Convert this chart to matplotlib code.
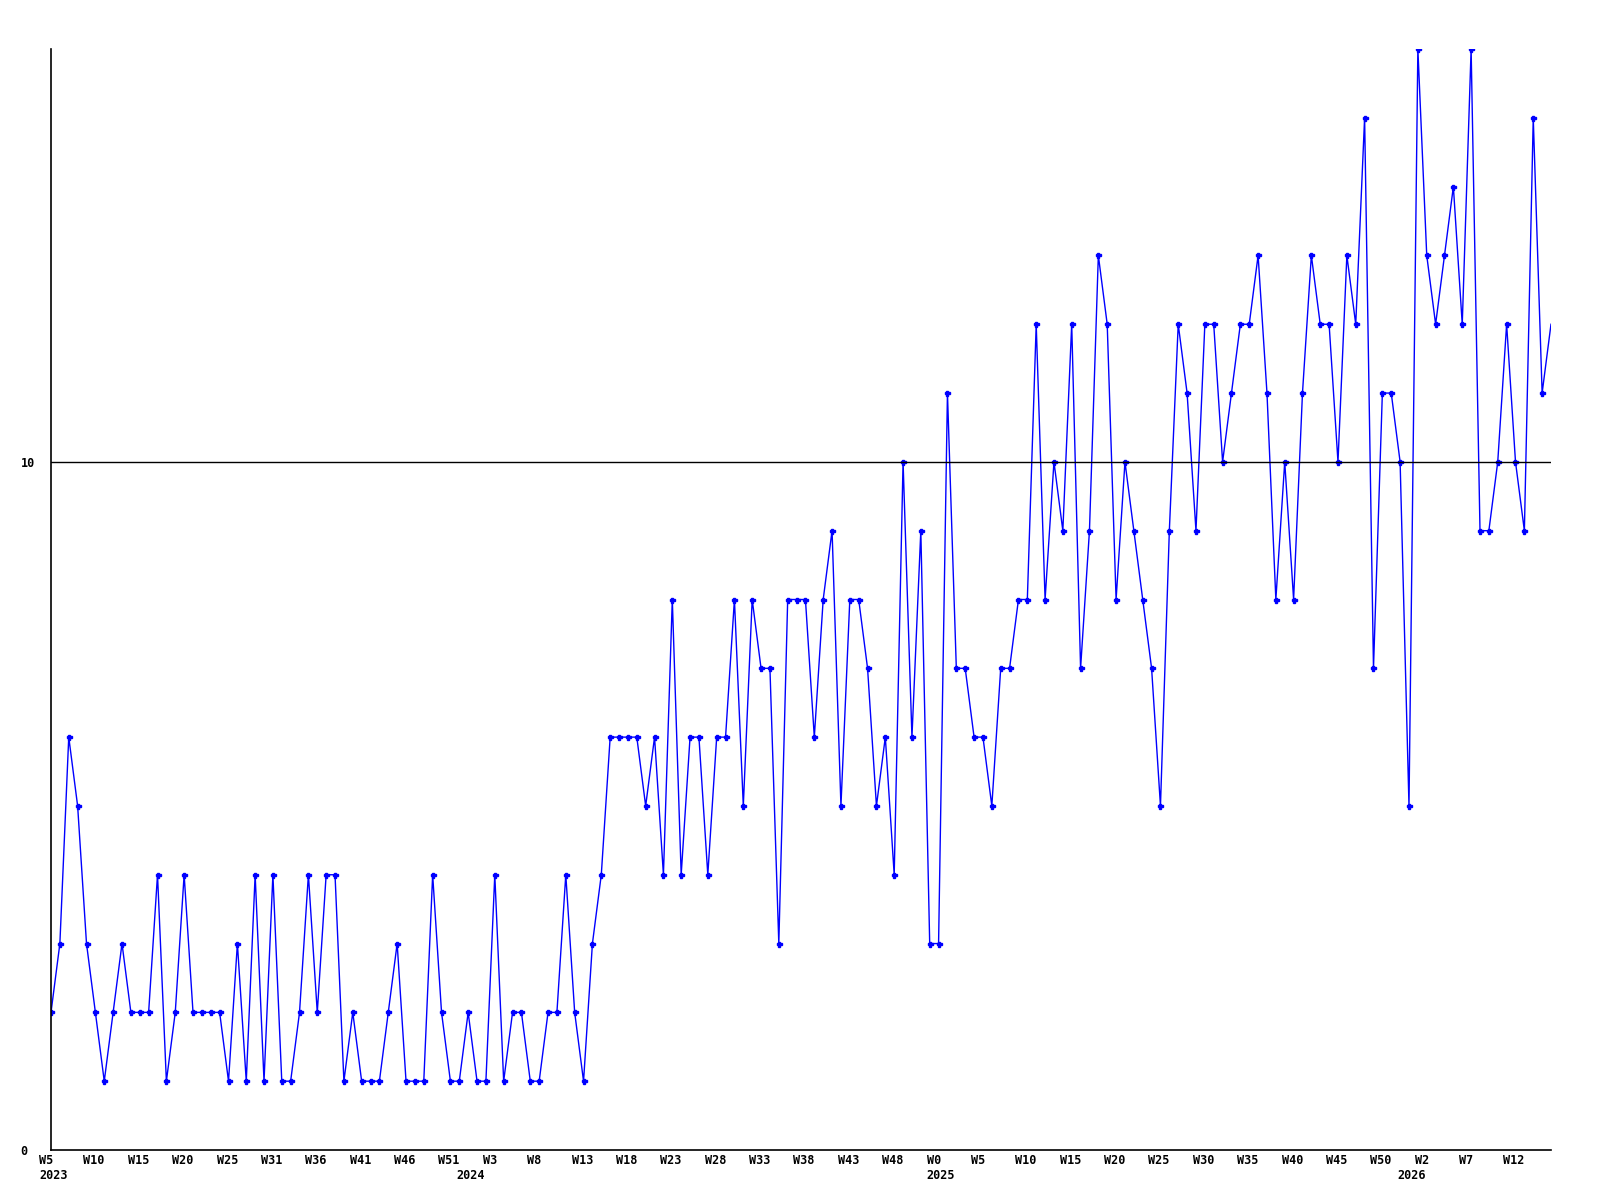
import matplotlib
matplotlib.use('Agg')
import matplotlib.pyplot as plt
import matplotlib.transforms as mtransforms

# valeurs hebdo (une par semaine, de 2023 W5 jusqu'au bout)
values = [2, 3, 6, 5, 3, 2, 1, 2, 3, 2, 2, 2, 4, 1, 2,
          4, 2, 2, 2, 2, 1, 3, 1, 4, 1, 4, 1, 1, 2,
          4, 2, 4, 4, 1, 2, 1, 1, 1, 2, 3, 1, 1, 1,
          4, 2, 1, 1, 2, 1, 1, 4, 1, 2, 2, 1, 1, 2,
          2, 4, 2, 1, 3, 4, 6, 6, 6, 6, 5, 6, 4, 8,
          4, 6, 6, 4, 6, 6, 8, 5, 8, 7, 7, 3, 8, 8,
          8, 6, 8, 9, 5, 8, 8, 7, 5, 6, 4, 10, 6, 9,
          3, 3, 11, 7, 7, 6, 6, 5, 7, 7, 8, 8, 12, 8,
          10, 9, 12, 7, 9, 13, 12, 8, 10, 9, 8, 7, 5, 9,
          12, 11, 9, 12, 12, 10, 11, 12, 12, 13, 11, 8, 10, 8,
          11, 13, 12, 12, 10, 13, 12, 15, 7, 11, 11, 10, 5, 16,
          13, 12, 13, 14, 12, 16, 9, 9, 10, 12, 10, 9, 15, 11, 12]

# une étiquette toutes les 5 semaines
week_labels = ['W5', 'W10', 'W15', 'W20', 'W25', 'W31', 'W36', 'W41', 'W46', 'W51',
               'W3', 'W8', 'W13', 'W18', 'W23', 'W28', 'W33', 'W38', 'W43', 'W48',
               'W0', 'W5', 'W10', 'W15', 'W20', 'W25', 'W30', 'W35', 'W40', 'W45',
               'W50', 'W2', 'W7', 'W12']
# l'année est écrite sous la première semaine de chaque année
year_pos = [0, 47, 100, 153]
years = ['2023', '2024', '2025', '2026']
threshold = 10
y_ticks = [0, 10]

fig = plt.figure(figsize=(16, 12), dpi=100)
ax = fig.add_axes([51/1600, 50/1200, 1500/1600, 1101/1200])

x = list(range(len(values)))
ax.plot(x, values, color='#0000ff', lw=1.0, marker='P', ms=3.6,
        markevery=slice(0, len(values)-1))
ax.axhline(threshold, color='black', lw=1)

ax.set_xlim(0, len(values)-1)
ax.set_ylim(0, 16)

for s in ['top', 'right']:
    ax.spines[s].set_visible(False)
for s in ['left', 'bottom']:
    ax.spines[s].set_color('black')
    ax.spines[s].set_linewidth(1.2)

font = dict(family='DejaVu Sans Mono', weight='bold', size=8.5)

tick_pos = list(range(0, 5*len(week_labels), 5))
ax.xaxis.remove_overlapping_locs = False  # sinon les années sous W5 et W0 disparaissent
ax.set_xticks(tick_pos)
ax.set_xticklabels(week_labels, fontdict=font, ha='left')
ax.set_xticks(year_pos, minor=True)
ax.set_xticklabels(years, fontdict=font, ha='left', minor=True)
ax.tick_params(axis='x', which='major', length=0, pad=3)
ax.tick_params(axis='x', which='minor', length=0, pad=14)
decal = mtransforms.ScaledTranslation(-12/100, 0, fig.dpi_scale_trans)
for lab in ax.get_xticklabels() + ax.get_xticklabels(minor=True):
    lab.set_transform(lab.get_transform() + decal)

ax.set_yticks(y_ticks)
ax.set_yticklabels([str(v) for v in y_ticks], fontdict=font, ha='left')
ax.tick_params(axis='y', length=0, pad=22)

fig.savefig('out.png', dpi=100, facecolor='white')
